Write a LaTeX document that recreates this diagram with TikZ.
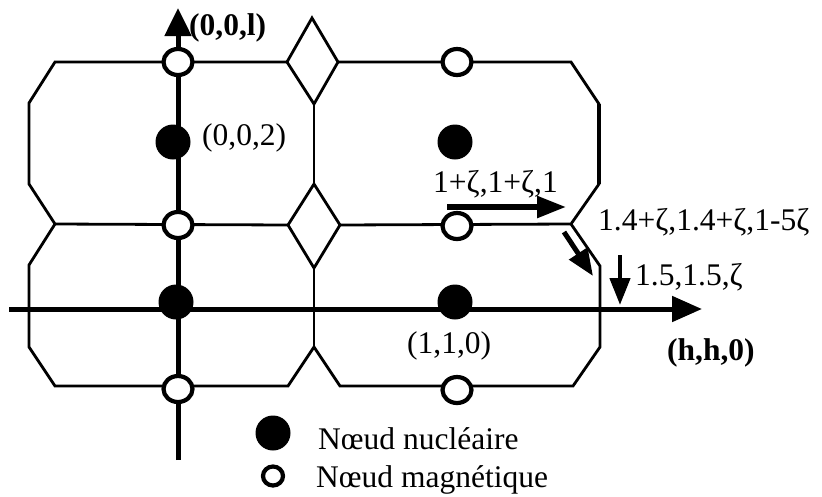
\documentclass[tikz,border=0pt]{standalone}
\usepackage{fontspec}
\setmainfont{Liberation Serif}
\usetikzlibrary{arrows.meta,shapes.geometric}
\begin{document}
\begin{tikzpicture}[x=1pt,y=-1pt,
  cell/.style={line width=2.8pt,line join=miter},
  axis/.style={line width=5pt,-{Triangle[length=28pt,width=26pt]}},
  thickarrow/.style={line width=5.5pt,-{Triangle[length=29pt,width=21pt]}},
  magn/.style={ellipse,draw,line width=4.2pt,fill=white,minimum width=29pt,minimum height=26pt,inner sep=0pt},
  nucl/.style={circle,fill=black,minimum size=35pt,inner sep=0pt},
  lab/.style={anchor=base west,inner sep=0pt,font=\fontsize{31.5}{36}\selectfont},
  blab/.style={lab,font=\fontsize{31.5}{36}\selectfont\bfseries}]
\useasboundingbox (0,0) rectangle (822,496);
% cell vertices
\coordinate (d1t) at (312,18);
\coordinate (d1l) at (287,62);
\coordinate (d1r) at (338,62);
\coordinate (d1b) at (314,104);
\coordinate (d2t) at (314,184);
\coordinate (d2l) at (288,225);
\coordinate (d2r) at (340,225);
\coordinate (d2b) at (314,268);
\coordinate (vb) at (314,347);
\coordinate (vl) at (288,386);
\coordinate (vr) at (340,386);
% upper left cell
\draw[cell] (d1l) -- (55,62) -- (29,103) -- (29,184) -- (55,224) -- (d2l);
% lower left cell
\draw[cell] (55,224) -- (29,265) -- (29,347) -- (55,386) -- (vl) -- (vb) -- (vr) -- (573,386) -- (600,347) -- (600,266) -- (571,224);
% diamonds and central vertical
\draw[cell] (d1t) -- (d1r) -- (d1b) -- (d1l) -- cycle;
\draw[cell] (d2t) -- (d2r) -- (d2b) -- (d2l) -- cycle;
\draw[cell] (d1b) -- (d2t);
\draw[cell] (d2b) -- (vb);
% upper right cell
\draw[cell] (d1r) -- (571,62) -- (599,104) -- (599,184) -- (571,224) -- (d2r);
\draw[line width=4pt] (599,104) -- (599,184);
% axes
\coordinate (vax0) at (178,460);
\coordinate (vax1) at (178,8);
\coordinate (hax0) at (9,309);
\coordinate (hax1) at (702,309);
\draw[axis] (vax0) -- (vax1);
\draw[axis,-{Triangle[length=30pt,width=25pt]}] (hax0) -- (hax1);
% nodes
\node[magn] (m1) at (178,62) {};
\node[magn] (m2) at (178,225) {};
\node[magn] (m3) at (178,389) {};
\node[magn] (m4) at (457,62) {};
\node[magn] (m5) at (457,226) {};
\node[magn] (m6) at (457,390) {};
\node[nucl] (n1) at (173,142) {};
\node[nucl] (n2) at (176,302) {};
\node[nucl] (n3) at (455,142) {};
\node[nucl] (n4) at (455,302) {};
% labels
\node[blab] (lz) at (189,35) {(0,0,l)};
\node[lab] (l002) at (202,145) {(0,0,2)};
\node[lab] (l110) at (407,353) {(1,1,0)};
\node[blab] (lh) at (667,360) {(h,h,0)};
\node[lab] (la) at (433,192) {1+ζ,1+ζ,1};
\node[lab] (lb) at (598,230) {1.4+ζ,1.4+ζ,1-5ζ};
\node[lab] (lc) at (635,285) {1.5,1.5,ζ};
% direction arrows
\coordinate (a1s) at (447,207);
\coordinate (a1e) at (566,207);
\draw[thickarrow] (a1s) -- (a1e);
\coordinate (a2s) at (564,232);
\coordinate (a2e) at (593,276);
\draw[thickarrow,line width=5pt,-{Triangle[length=27pt,width=21pt]}] (a2s) -- (a2e);
\coordinate (a3s) at (620,255);
\coordinate (a3e) at (620,305);
\draw[thickarrow,line width=4.5pt,-{Triangle[length=27pt,width=20pt]}] (a3s) -- (a3e);
% legend
\node[nucl,minimum size=35pt] (ln) at (273,433) {};
\node[lab] (lnt) at (318,449) {Nœud nucléaire};
\node[magn,minimum width=20pt,minimum height=19pt] (lm) at (273,476) {};
\node[lab] (lmt) at (316,487) {Nœud magnétique};
\end{tikzpicture}
\end{document}
